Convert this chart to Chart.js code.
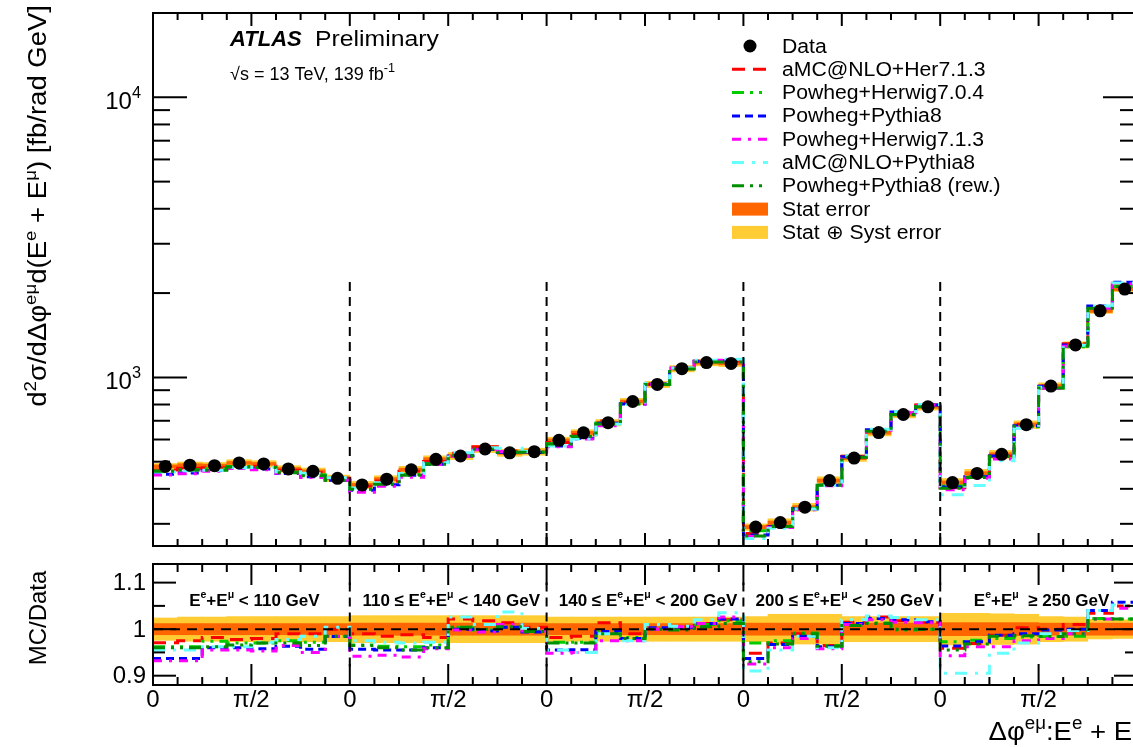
<!DOCTYPE html>
<html>
<head>
<meta charset="utf-8">
<script src="https://cdn.jsdelivr.net/npm/chart.js@4.4.0/dist/chart.umd.min.js"></script>
<style>
html, body { margin: 0; padding: 0; overflow: hidden; background: #fff; width: 1133px; height: 747px; }
#wrap { position: relative; width: 1145px; height: 747px; }
canvas { position: absolute; left: 0; }
#top { top: 0; }
#bot { top: 550px; }
</style>
</head>
<body>
<div id="wrap">
  <canvas id="top" width="1145" height="560"></canvas>
  <canvas id="bot" width="1145" height="197"></canvas>
</div>
<script>
// 5 regions of E^e+E^mu, 8 bins of dphi (0..pi) each
const binsPerRegion = 8;
const regionLabels = [
  'E^{e}+E^{μ} < 110 GeV',
  '110 ≤ E^{e}+E^{μ} < 140 GeV',
  '140 ≤ E^{e}+E^{μ} < 200 GeV',
  '200 ≤ E^{e}+E^{μ} < 250 GeV',
  'E^{e}+E^{μ}  ≥ 250 GeV'
];
const phiTickLabels = ['0', 'π/2'];
const yTickLabels = [[1000, '10^{3}'], [10000, '10^{4}']];
const ratioTickLabels = [[1.1, '1.1'], [1.0, '1'], [0.9, '0.9']];

// measured cross section [fb/rad GeV]
const dataValues = [
  481, 486, 484, 495, 491, 471, 462, 436,
  413, 433, 468, 510, 524, 555, 538, 543,
  596, 634, 689, 820, 944, 1074, 1129, 1122,
  292, 303, 344, 428, 515, 635, 737, 785,
  421, 454, 531, 678, 931, 1306, 1728, 2066
];
// relative uncertainties
const statErr = [
  0.012, 0.012, 0.012, 0.012, 0.012, 0.012, 0.012, 0.012,
  0.013, 0.013, 0.013, 0.013, 0.013, 0.013, 0.013, 0.013,
  0.012, 0.012, 0.012, 0.012, 0.012, 0.012, 0.012, 0.012,
  0.013, 0.013, 0.013, 0.013, 0.013, 0.013, 0.013, 0.013,
  0.014, 0.014, 0.014, 0.014, 0.013, 0.013, 0.013, 0.013
];
const totErr = [
  0.024, 0.026, 0.026, 0.027, 0.027, 0.027, 0.027, 0.027,
  0.029, 0.029, 0.029, 0.029, 0.029, 0.029, 0.029, 0.029,
  0.026, 0.026, 0.026, 0.026, 0.026, 0.026, 0.026, 0.026,
  0.027, 0.032, 0.032, 0.032, 0.027, 0.027, 0.027, 0.027,
  0.034, 0.034, 0.033, 0.032, 0.027, 0.026, 0.021, 0.020
];

// MC / Data
const ratioAmcHer713 = [
  0.971, 0.975, 0.982, 0.978, 0.980, 0.990, 0.990, 1.000,
  0.990, 0.985, 0.988, 0.982, 1.022, 1.018, 1.014, 1.004,
  0.982, 0.985, 1.014, 0.990, 1.000, 1.005, 1.012, 1.020,
  0.948, 0.970, 0.990, 0.965, 1.015, 1.026, 1.018, 1.015,
  0.959, 0.969, 0.987, 1.003, 1.000, 1.010, 1.034, 1.050
];
const ratioPowHer704 = [
  0.962, 0.962, 0.974, 0.970, 0.970, 0.975, 0.972, 0.985,
  0.966, 0.963, 0.962, 0.966, 1.004, 0.998, 1.004, 0.996,
  0.972, 0.972, 0.995, 0.982, 1.000, 1.004, 1.010, 1.018,
  0.970, 0.975, 0.992, 0.965, 1.008, 1.013, 0.998, 1.000,
  0.973, 0.976, 0.980, 0.983, 0.984, 0.985, 1.023, 1.022
];
const ratioPowPy8 = [
  0.937, 0.937, 0.960, 0.960, 0.958, 0.963, 0.957, 0.984,
  0.957, 0.955, 0.955, 0.960, 1.000, 0.996, 1.004, 0.994,
  0.955, 0.956, 0.995, 0.980, 1.003, 1.003, 1.012, 1.022,
  0.937, 0.967, 0.985, 0.962, 1.012, 1.023, 1.020, 1.016,
  0.964, 0.973, 0.987, 0.990, 0.998, 1.000, 1.040, 1.058
];
const ratioPowHer713 = [
  0.932, 0.932, 0.955, 0.955, 0.953, 0.965, 0.950, 0.985,
  0.942, 0.944, 0.940, 0.958, 0.998, 0.994, 1.010, 0.996,
  0.948, 0.950, 0.975, 0.975, 1.000, 1.005, 1.012, 1.026,
  0.925, 0.960, 0.980, 0.958, 1.010, 1.020, 1.015, 1.014,
  0.943, 0.962, 0.962, 0.975, 0.980, 0.990, 1.022, 1.045
];
const ratioAmcPy8 = [
  0.955, 0.955, 0.962, 0.962, 0.972, 0.978, 0.985, 1.004,
  0.975, 0.972, 0.970, 0.972, 1.026, 1.010, 1.037, 1.002,
  0.955, 0.950, 0.990, 0.975, 1.010, 1.006, 1.020, 1.035,
  0.910, 0.955, 0.985, 0.960, 1.020, 1.028, 1.025, 1.020,
  0.905, 0.905, 0.948, 0.970, 0.990, 0.997, 1.040, 1.052
];
const ratioPowPy8Rew = [
  0.960, 0.960, 0.962, 0.966, 0.970, 0.970, 0.965, 0.985,
  0.965, 0.960, 0.955, 0.960, 1.004, 1.000, 1.005, 0.995,
  0.970, 0.970, 0.990, 0.980, 1.000, 0.998, 1.005, 1.012,
  0.930, 0.968, 0.990, 0.963, 1.008, 1.012, 1.000, 1.000,
  0.955, 0.968, 0.985, 0.986, 0.984, 0.990, 1.022, 1.022
];

const mcModels = [
  { label: 'aMC@NLO+Her7.1.3',       ratio: ratioAmcHer713, color: '#ff0000', dash: [13, 8] },
  { label: 'Powheg+Herwig7.0.4',     ratio: ratioPowHer704, color: '#00cc00', dash: [12, 6, 3, 6, 3, 6] },
  { label: 'Powheg+Pythia8',         ratio: ratioPowPy8,    color: '#0000ff', dash: [8, 5] },
  { label: 'Powheg+Herwig7.1.3',     ratio: ratioPowHer713, color: '#ff00ff', dash: [9, 7, 3, 7] },
  { label: 'aMC@NLO+Pythia8',        ratio: ratioAmcPy8,    color: '#66ffff', dash: [12, 8, 3, 8] },
  { label: 'Powheg+Pythia8 (rew.)',  ratio: ratioPowPy8Rew, color: '#008f00', dash: [12, 6, 3, 6, 3, 6] }
];

const FONT = '"Liberation Sans", Arial, Helvetica, sans-serif';
const nBins = dataValues.length;
const STAT_COL = '#ff6600';
const SYST_COL = '#ffcc33';

function steps(vals) {
  const pts = [];
  vals.forEach((v, i) => { pts.push({ x: i, y: v }); pts.push({ x: i + 1, y: v }); });
  return pts;
}

function parseRich(s) {
  const out = [];
  let i = 0, buf = '';
  while (i < s.length) {
    if (s[i] === '^' && s[i + 1] === '{') {
      if (buf) out.push({ t: buf, sup: false });
      buf = '';
      const j = s.indexOf('}', i);
      out.push({ t: s.slice(i + 2, j), sup: true });
      i = j + 1;
    } else { buf += s[i]; i++; }
  }
  if (buf) out.push({ t: buf, sup: false });
  return out;
}
function fontStr(o, size) {
  return (o.style || '') + ' ' + (o.weight || '') + ' ' + size + 'px ' + FONT;
}
// text with ^{...} superscripts; rise is a fraction of the font size
function drawRich(ctx, s, x, y, o) {
  const size = o.size, ss = size * (o.supScale || 0.68), rise = size * (o.supRise || 0.42);
  const segs = parseRich(s);
  let w = 0;
  segs.forEach(g => { ctx.font = fontStr(o, g.sup ? ss : size); g.w = ctx.measureText(g.t).width; w += g.w; });
  let cx = o.align === 'right' ? x - w : o.align === 'center' ? x - w / 2 : x;
  ctx.textAlign = 'left';
  ctx.textBaseline = 'alphabetic';
  ctx.fillStyle = o.color || '#000';
  segs.forEach(g => {
    ctx.font = fontStr(o, g.sup ? ss : size);
    ctx.fillText(g.t, cx, g.sup ? y - rise : y);
    cx += g.w;
  });
  return w;
}

function line(ctx, x1, y1, x2, y2) {
  ctx.beginPath(); ctx.moveTo(x1, y1); ctx.lineTo(x2, y2); ctx.stroke();
}

// frame + inward ticks, ROOT style
function drawFrame(chart, xMinor, xMajor, yTicks) {
  const ctx = chart.ctx, a = chart.chartArea, xs = chart.scales.x, ys = chart.scales.y;
  ctx.save();
  ctx.strokeStyle = '#000';
  ctx.lineWidth = 2;
  ctx.setLineDash([]);
  ctx.strokeRect(a.left, a.top, a.right - a.left, a.bottom - a.top);
  for (let k = 0; k <= nBins; k++) {
    const px = xs.getPixelForValue(k);
    const len = k % 4 === 0 ? xMajor : xMinor;
    line(ctx, px, a.bottom, px, a.bottom - len);
    line(ctx, px, a.top, px, a.top + len);
  }
  yTicks.forEach(([v, len]) => {
    const py = ys.getPixelForValue(v);
    line(ctx, a.left, py, a.left + len, py);
    line(ctx, a.right, py, a.right - len, py);
  });
  ctx.restore();
}

function drawBoundaries(chart, yLo, yHi) {
  const ctx = chart.ctx, xs = chart.scales.x, ys = chart.scales.y;
  ctx.save();
  ctx.strokeStyle = '#000';
  ctx.lineWidth = 2;
  ctx.setLineDash([9, 6]);
  for (let r = 1; r < regionLabels.length; r++) {
    const px = xs.getPixelForValue(r * binsPerRegion);
    line(ctx, px, ys.getPixelForValue(yLo), px, ys.getPixelForValue(yHi));
  }
  ctx.restore();
}

const centers = dataValues.map((_, i) => i + 0.5);

// ---------- top panel ----------
const topDatasets = [
  {
    type: 'bar', label: 'Stat ⊕ Syst error', order: 20,
    data: centers.map((c, i) => ({ x: c, y: [dataValues[i] * (1 - totErr[i]), dataValues[i] * (1 + totErr[i])] })),
    backgroundColor: SYST_COL, borderWidth: 0, grouped: false, barPercentage: 1, categoryPercentage: 1
  },
  {
    type: 'bar', label: 'Stat error', order: 19,
    data: centers.map((c, i) => ({ x: c, y: [dataValues[i] * (1 - statErr[i]), dataValues[i] * (1 + statErr[i])] })),
    backgroundColor: STAT_COL, borderWidth: 0, grouped: false, barPercentage: 1, categoryPercentage: 1
  }
];
mcModels.forEach((m, j) => {
  topDatasets.push({
    type: 'line', label: m.label, order: 10 - j,
    data: steps(dataValues.map((d, i) => d * m.ratio[i])),
    borderColor: m.color, borderDash: m.dash, borderWidth: 3, pointRadius: 0, fill: false, tension: 0
  });
});
topDatasets.push({
  type: 'line', label: 'Data', order: 0,
  data: centers.map((c, i) => ({ x: c, y: dataValues[i] })),
  showLine: false, pointRadius: 6.5, pointBackgroundColor: '#000', pointBorderWidth: 0
});

const logTicks = [];
for (let d = 2; d <= 4; d++) for (let m = 1; m <= 9; m++) logTicks.push([m * Math.pow(10, d), m === 1 ? 34 : 17]);

const topPlugin = {
  id: 'topDecor',
  afterDatasetsDraw(chart) {
    const ctx = chart.ctx, a = chart.chartArea, ys = chart.scales.y;
    drawBoundaries(chart, 250, 2300);
    drawFrame(chart, 7, 13, logTicks.filter(t => t[0] >= ys.min && t[0] <= ys.max));

    // y tick labels
    yTickLabels.forEach(([v, txt]) => {
      drawRich(ctx, txt, a.left - 12, ys.getPixelForValue(v) + 12, { size: 24, supScale: 0.68, supRise: 0.46, align: 'right' });
    });
    // y title
    ctx.save();
    ctx.translate(46, 5);
    ctx.rotate(-Math.PI / 2);
    ctx.scale(1.1, 1);
    drawRich(ctx, 'd^{2}σ/dΔφ^{eμ}d(E^{e} + E^{μ}) [fb/rad GeV]', 0, 0, { size: 25, align: 'right' });
    ctx.restore();

    // ATLAS label
    drawRich(ctx, 'ATLAS', 230, 46, { size: 22, weight: 'bold', style: 'italic' });
    ctx.save();
    ctx.translate(315, 46);
    ctx.scale(1.1, 1);
    drawRich(ctx, 'Preliminary', 0, 0, { size: 22.5 });
    ctx.restore();
    drawRich(ctx, '√s = 13 TeV, 139 fb^{-1}', 230, 80, { size: 18, supScale: 0.7 });

    // legend
    const lx0 = 732, lx1 = 768, tx = 782, rowH = 23.3;
    const order = ['Data'].concat(mcModels.map(m => m.label), ['Stat error', 'Stat ⊕ Syst error']);
    order.forEach((lab, r) => {
      const ds = chart.data.datasets.find(d => d.label === lab);
      const y = 46 + r * rowH;
      ctx.save();
      if (ds.type === 'bar') {
        ctx.fillStyle = ds.backgroundColor;
        ctx.fillRect(lx0, y - 6.5, lx1 - lx0, 13);
      } else if (ds.showLine === false) {
        ctx.fillStyle = '#000';
        ctx.beginPath(); ctx.arc((lx0 + lx1) / 2, y, 6.5, 0, Math.PI * 2); ctx.fill();
      } else {
        ctx.strokeStyle = ds.borderColor; ctx.lineWidth = 3; ctx.setLineDash(ds.borderDash);
        line(ctx, lx0, y, lx1, y);
      }
      ctx.restore();
      ctx.save();
      ctx.translate(tx, y + 1);
      ctx.scale(1.06, 1);
      ctx.font = '20px ' + FONT; ctx.fillStyle = '#000';
      ctx.textBaseline = 'middle'; ctx.textAlign = 'left';
      ctx.fillText(lab, 0, 0);
      ctx.restore();
    });
  }
};

new Chart(document.getElementById('top'), {
  type: 'line',
  data: { datasets: topDatasets },
  options: {
    responsive: false, animation: false, events: [],
    layout: { padding: { left: 153, right: 8, top: 13, bottom: 14 } },
    plugins: { legend: { display: false }, tooltip: { enabled: false } },
    scales: {
      x: { type: 'linear', min: 0, max: nBins, offset: false, display: false },
      y: { type: 'logarithmic', min: 250, max: 20000, display: false }
    }
  },
  plugins: [topPlugin]
});

// ---------- ratio panel ----------
const botDatasets = [
  {
    type: 'bar', label: 'Stat ⊕ Syst error', order: 20,
    data: centers.map((c, i) => ({ x: c, y: [1 - totErr[i], 1 + totErr[i]] })),
    backgroundColor: SYST_COL, borderWidth: 0, grouped: false, barPercentage: 1, categoryPercentage: 1
  },
  {
    type: 'bar', label: 'Stat error', order: 19,
    data: centers.map((c, i) => ({ x: c, y: [1 - statErr[i], 1 + statErr[i]] })),
    backgroundColor: STAT_COL, borderWidth: 0, grouped: false, barPercentage: 1, categoryPercentage: 1
  }
];
mcModels.forEach((m, j) => {
  botDatasets.push({
    type: 'line', label: m.label, order: 10 - j,
    data: steps(m.ratio),
    borderColor: m.color, borderDash: m.dash, borderWidth: 3, pointRadius: 0, fill: false, tension: 0
  });
});

const ratioTicks = [[0.9, 23], [0.95, 12], [1.0, 23], [1.05, 12], [1.1, 23]];

const botPlugin = {
  id: 'botDecor',
  afterDatasetsDraw(chart) {
    const ctx = chart.ctx, a = chart.chartArea, xs = chart.scales.x, ys = chart.scales.y;
    // reference line at 1
    ctx.save();
    ctx.strokeStyle = '#000'; ctx.lineWidth = 2; ctx.setLineDash([10, 7]);
    line(ctx, a.left, ys.getPixelForValue(1), a.right, ys.getPixelForValue(1));
    ctx.restore();
    drawBoundaries(chart, 0.92, 1.1);
    drawFrame(chart, 8, 21, ratioTicks);

    ctx.save();
    ctx.fillStyle = '#000';
    ctx.font = '24px ' + FONT;
    ctx.textAlign = 'right'; ctx.textBaseline = 'middle';
    ratioTickLabels.forEach(([v, txt]) => ctx.fillText(txt, a.left - 7, ys.getPixelForValue(v) + 1));
    ctx.textAlign = 'center'; ctx.textBaseline = 'alphabetic';
    for (let k = 0; k < nBins; k += binsPerRegion / 2) {
      ctx.fillText(phiTickLabels[(k / (binsPerRegion / 2)) % 2], xs.getPixelForValue(k), a.bottom + 22);
    }
    ctx.restore();

    // region labels
    regionLabels.forEach((lab, r) => {
      const cx = xs.getPixelForValue((r + 0.5) * binsPerRegion);
      drawRich(ctx, lab, cx + 3, a.top + 42, { size: 17, weight: 'bold', supScale: 0.62, supRise: 0.45, align: 'center' });
    });
  },
  afterDraw(chart) {
    const ctx = chart.ctx, a = chart.chartArea;
    ctx.save();
    ctx.translate(46, a.top + 54);
    ctx.rotate(-Math.PI / 2);
    drawRich(ctx, 'MC/Data', 0, 0, { size: 24, align: 'center' });
    ctx.restore();
    ctx.save();
    ctx.translate(1143, 190);
    ctx.scale(1.06, 1);
    drawRich(ctx, 'Δφ^{eμ}:E^{e} + E^{μ}', 0, 0, { size: 26, align: 'right' });
    ctx.restore();
  }
};

new Chart(document.getElementById('bot'), {
  type: 'line',
  data: { datasets: botDatasets },
  options: {
    responsive: false, animation: false, events: [],
    layout: { padding: { left: 153, right: 8, top: 14, bottom: 62 } },
    plugins: { legend: { display: false }, tooltip: { enabled: false } },
    scales: {
      x: { type: 'linear', min: 0, max: nBins, offset: false, display: false },
      y: { type: 'linear', min: 0.88, max: 1.14, display: false }
    }
  },
  plugins: [botPlugin]
});
</script>
</body>
</html>
